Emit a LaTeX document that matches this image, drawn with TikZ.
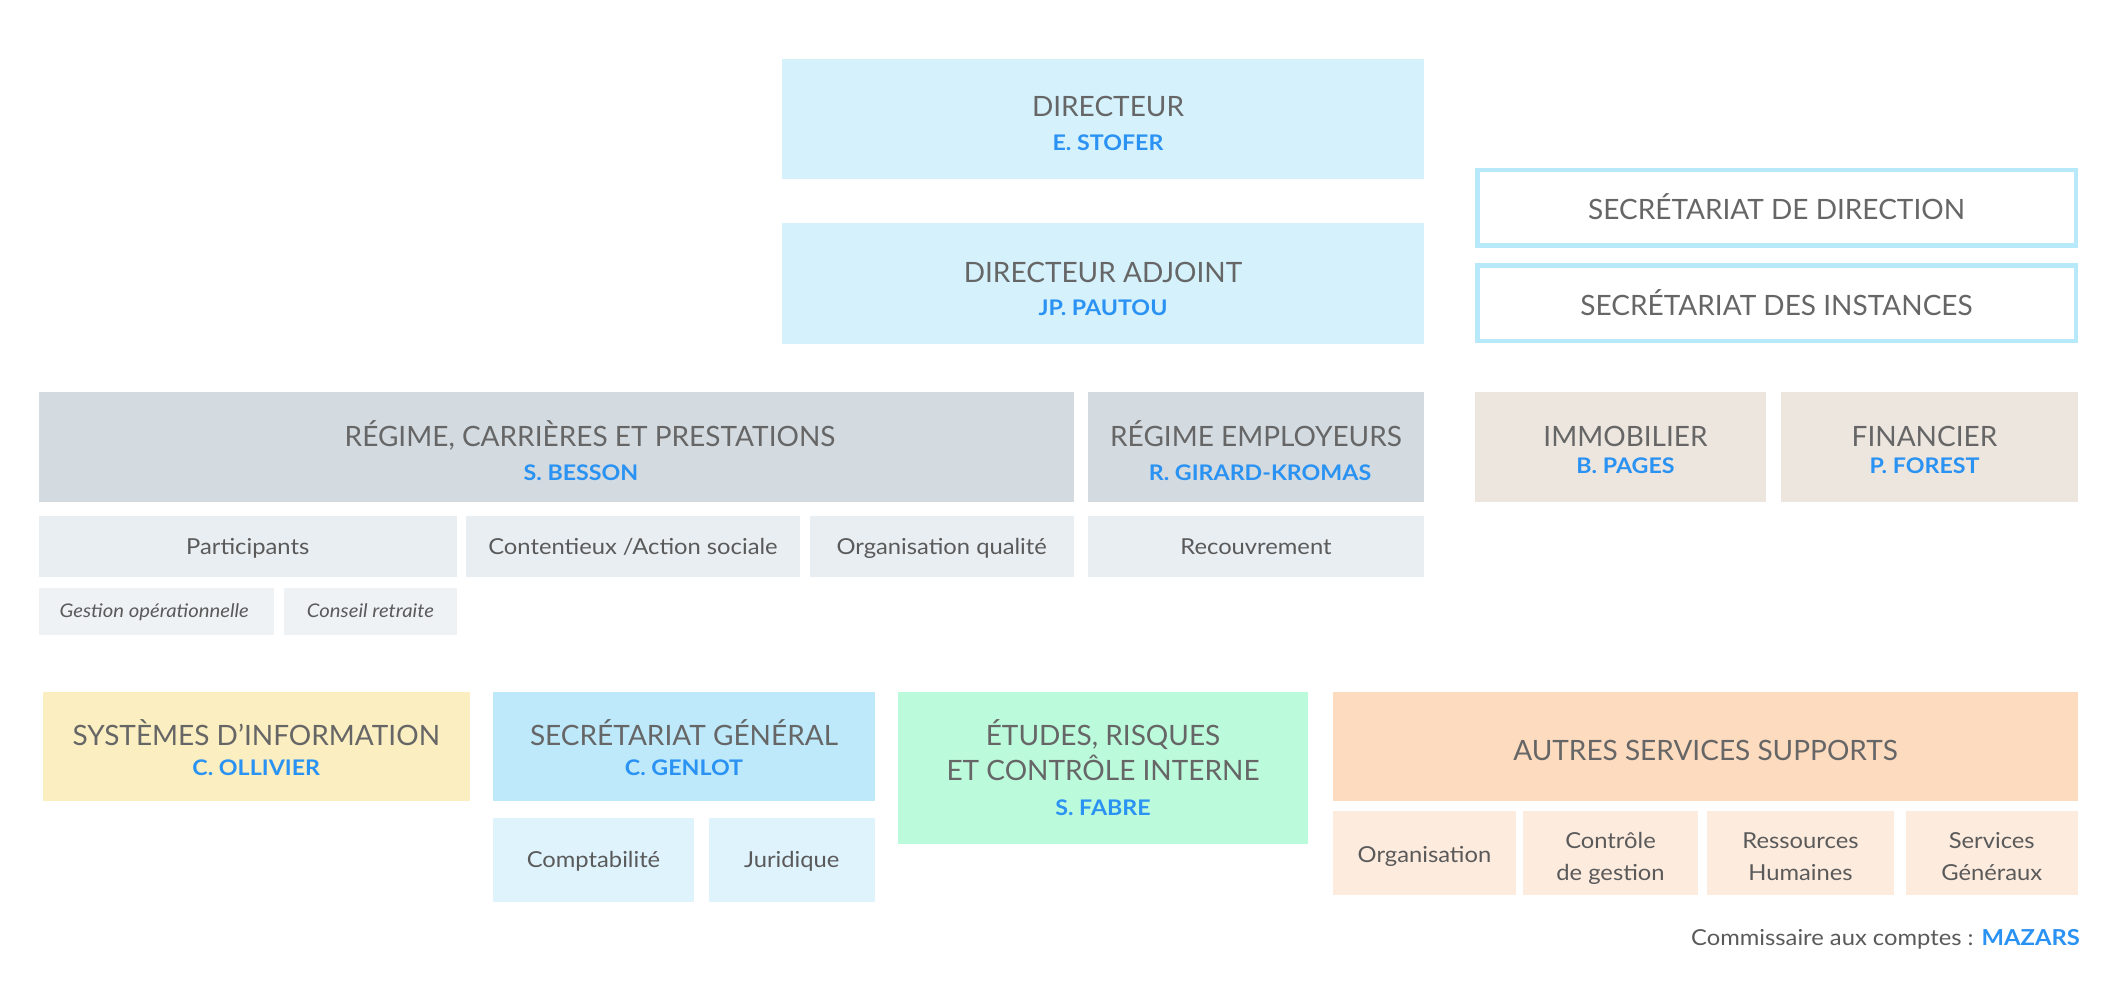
\documentclass[tikz,border=0pt]{standalone}
\usepackage{fontspec}
\usetikzlibrary{fit,calc}
\newfontfamily\ttlfont{Lato}
\newfontfamily\basefont{Lato}[FakeStretch=1.08]
\newfontfamily\namefont{Lato}[FakeStretch=1.08]
\setmainfont{Lato}
\definecolor{cDir}{HTML}{D4F1FC}
\definecolor{cSec}{HTML}{B8E9FB}
\definecolor{cHead}{HTML}{D3DBE1}
\definecolor{cSub}{HTML}{E9EEF2}
\definecolor{cSubb}{HTML}{EEF2F5}
\definecolor{cImm}{HTML}{EDE6DF}
\definecolor{cSys}{HTML}{FBEEC0}
\definecolor{cSg}{HTML}{BDE9FB}
\definecolor{cSgSub}{HTML}{DFF3FD}
\definecolor{cEtu}{HTML}{BCFADC}
\definecolor{cAut}{HTML}{FDDBBF}
\definecolor{cAutSub}{HTML}{FDEBDE}
\definecolor{tgray}{HTML}{666666}
\definecolor{sgray}{HTML}{5A5A5A}
\definecolor{nblue}{HTML}{2A92F2}
\tikzset{
  box/.style={inner sep=0pt, outer sep=0pt, draw=none},
  secbox/.style={inner sep=0pt, outer sep=0pt, draw=cSec, line width=4.5pt, fill=white},
  ttl/.style={font=\ttlfont\fontsize{28}{32}\selectfont, text=tgray, anchor=base, inner sep=0pt},
  nm/.style={font=\namefont\bfseries\fontsize{21.5}{24}\selectfont, text=nblue, anchor=base, inner sep=0pt},
  subt/.style={font=\basefont\fontsize{22}{32}\selectfont, text=sgray, anchor=base, inner sep=0pt},
  subi/.style={font=\basefont\itshape\fontsize{18.8}{22}\selectfont, text=sgray, anchor=base, inner sep=0pt},
}
\newcommand\twol[2]{\begin{tabular}[t]{@{}c@{}}#1\\#2\end{tabular}}
\begin{document}
\begin{tikzpicture}[x=1pt,y=-1pt]
\fill[white] (0,0) rectangle (2116,1000);
\useasboundingbox (0,0) rectangle (2116,1000);
% direction
\node[box, fill=cDir, fit={(782,59)(1424,179)}] (dir) {};
\node[ttl] (dirT) at ([yshift=2pt,xshift=5pt]dir.center) {DIRECTEUR};
\node[nm] (dirN) at ([yshift=-32pt,xshift=5pt]dir.center) {E. STOFER};
\node[box, fill=cDir, fit={(782,223)(1424,344)}] (adj) {};
\node[ttl] (adjT) at ([yshift=1.5pt]adj.center) {DIRECTEUR ADJOINT};
\node[nm] (adjN) at ([yshift=-31.5pt]adj.center) {JP. PAUTOU};
% secretariats
\node[secbox, fit={(1477.25,170.25)(2075.75,245.75)}] (secD) {};
\node[ttl] (secDT) at ([yshift=-12pt]secD.center) {SECRÉTARIAT DE DIRECTION};
\node[secbox, fit={(1477.25,265.25)(2075.75,340.75)}] (secI) {};
\node[ttl] (secIT) at ([yshift=-12pt]secI.center) {SECRÉTARIAT DES INSTANCES};
% regime
\node[box, fill=cHead, fit={(38.5,392)(1073.5,502)}] (rcp) {};
\node[ttl] (rcpT) at ([yshift=1pt,xshift=34pt]rcp.center) {RÉGIME, CARRIÈRES ET PRESTATIONS};
\node[nm] (rcpN) at ([yshift=-33pt,xshift=25pt]rcp.center) {S. BESSON};
\node[box, fill=cHead, fit={(1088,392)(1424,502)}] (re) {};
\node[ttl] (reT) at ([yshift=1pt]re.center) {RÉGIME EMPLOYEURS};
\node[nm] (reN) at ([yshift=-33pt,xshift=4pt]re.center) {R. GIRARD-KROMAS};
\node[box, fill=cImm, fit={(1475,392)(1766,502)}] (imm) {};
\node[ttl] (immT) at ([yshift=1pt,xshift=5pt]imm.center) {IMMOBILIER};
\node[nm] (immN) at ([yshift=-26pt,xshift=5pt]imm.center) {B. PAGES};
\node[box, fill=cImm, fit={(1781,392)(2078,502)}] (fin) {};
\node[ttl] (finT) at ([yshift=1pt,xshift=-5pt]fin.center) {FINANCIER};
\node[nm] (finN) at ([yshift=-26pt,xshift=-5pt]fin.center) {P. FOREST};
% sub services
\node[box, fill=cSub, fit={(38.5,516)(457,577)}] (part) {};
\node[subt] (partT) at ([yshift=-7.5pt]part.center) {Participants};
\node[box, fill=cSub, fit={(466,516)(800,577)}] (cont) {};
\node[subt] (contT) at ([yshift=-7.5pt]cont.center) {Contentieux /Action sociale};
\node[box, fill=cSub, fit={(810,516)(1073.5,577)}] (orgq) {};
\node[subt] (orgqT) at ([yshift=-7.5pt]orgq.center) {Organisation qualité};
\node[box, fill=cSub, fit={(1088,516)(1424,577)}] (rec) {};
\node[subt] (recT) at ([yshift=-7.5pt]rec.center) {Recouvrement};
\node[box, fill=cSubb, fit={(38.5,588)(274,635)}] (gest) {};
\node[subi] (gestT) at ([yshift=-6pt,xshift=-2pt]gest.center) {Gestion opérationnelle};
\node[box, fill=cSubb, fit={(284,588)(457,635)}] (cons) {};
\node[subi] (consT) at ([yshift=-6pt]cons.center) {Conseil retraite};
% bottom row
\node[box, fill=cSys, fit={(42.5,692)(470,801)}] (sys) {};
\node[ttl] (sysT) at ([yshift=1.5pt]sys.center) {SYSTÈMES D’INFORMATION};
\node[nm] (sysN) at ([yshift=-28.5pt]sys.center) {C. OLLIVIER};
\node[box, fill=cSg, fit={(493,692)(875,801)}] (sg) {};
\node[ttl] (sgT) at ([yshift=1.5pt]sg.center) {SECRÉTARIAT GÉNÉRAL};
\node[nm] (sgN) at ([yshift=-28.5pt]sg.center) {C. GENLOT};
\node[box, fill=cSgSub, fit={(493,818)(694,902)}] (compta) {};
\node[subt] (comptaT) at ([yshift=-7pt]compta.center) {Comptabilité};
\node[box, fill=cSgSub, fit={(708.5,818)(875,902)}] (jur) {};
\node[subt] (jurT) at ([yshift=-7pt]jur.center) {Juridique};
\node[box, fill=cEtu, fit={(898,692)(1308,844)}] (etu) {};
\node[ttl] (etuT) at ([yshift=23pt]etu.center) {\twol{ÉTUDES, RISQUES}{ET CONTRÔLE INTERNE}};
\node[nm] (etuN) at ([yshift=-47pt]etu.center) {S. FABRE};
\node[box, fill=cAut, fit={(1333,692)(2078,801)}] (aut) {};
\node[ttl] (autT) at ([yshift=-13.5pt]aut.center) {AUTRES SERVICES SUPPORTS};
\node[box, fill=cAutSub, fit={(1333,811)(1516,895)}] (org) {};
\node[subt] (orgT) at ([yshift=-9pt]org.center) {Organisation};
\node[box, fill=cAutSub, fit={(1523,811)(1698,895)}] (cg) {};
\node[subt] (cgT) at ([yshift=5pt]cg.center) {\twol{Contrôle}{de gestion}};
\node[box, fill=cAutSub, fit={(1707,811)(1894,895)}] (rh) {};
\node[subt] (rhT) at ([yshift=5pt]rh.center) {\twol{Ressources}{Humaines}};
\node[box, fill=cAutSub, fit={(1905.5,811)(2078,895)}] (sgx) {};
\node[subt] (sgxT) at ([yshift=5pt]sgx.center) {\twol{Services}{Généraux}};
% auditor
\node[font=\basefont\fontsize{22}{24}\selectfont, text=sgray, anchor=base east, inner sep=0pt] (cac) at (2080,945) {Commissaire aux comptes : {\bfseries\color{nblue}MAZARS}};
\end{tikzpicture}
\end{document}
